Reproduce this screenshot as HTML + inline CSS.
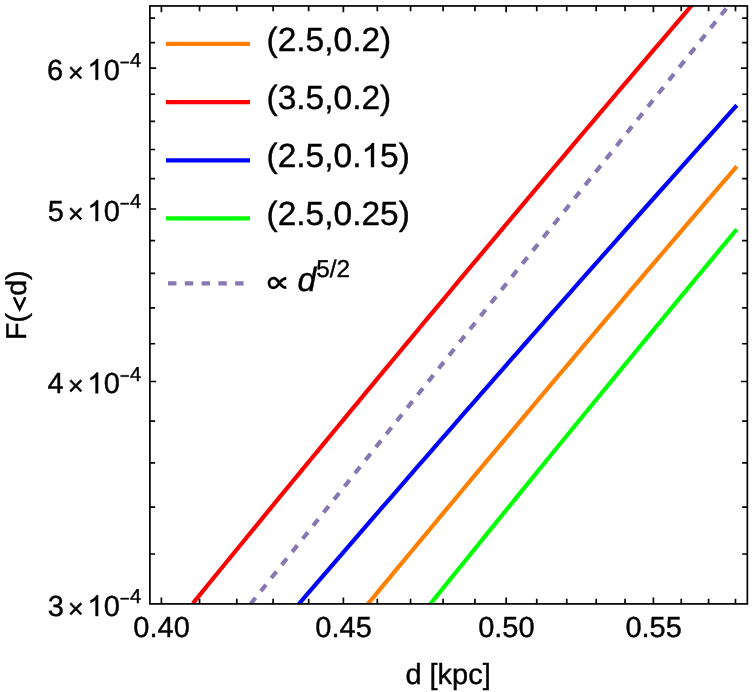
<!DOCTYPE html>
<html><head><meta charset="utf-8"><title>plot</title>
<style>html,body{margin:0;padding:0;background:#fff;}body{width:756px;height:692px;position:relative;overflow:hidden;font-family:"Liberation Sans",sans-serif;}</style>
</head><body>
<svg width="756" height="692" viewBox="0 0 756 692" style="position:absolute;left:0;top:0;will-change:transform">
<defs><clipPath id="c"><rect x="149.9" y="5.95" width="597.45" height="597.9499999999999"/></clipPath></defs>
<g clip-path="url(#c)" fill="none" stroke-linecap="butt" stroke-linejoin="round">
<path d="M366.63,605.45 L374.19,596.31 L381.74,587.18 L389.30,578.06 L396.85,568.94 L404.41,559.84 L411.96,550.73 L419.51,541.64 L427.07,532.55 L434.62,523.47 L442.18,514.40 L449.73,505.34 L457.29,496.28 L464.84,487.23 L472.39,478.19 L479.95,469.15 L487.50,460.12 L495.06,451.10 L502.61,442.09 L510.17,433.08 L517.72,424.09 L525.28,415.09 L532.83,406.11 L540.38,397.13 L547.94,388.16 L555.49,379.20 L563.05,370.25 L570.60,361.30 L578.16,352.36 L585.71,343.43 L593.27,334.50 L600.82,325.58 L608.37,316.67 L615.93,307.77 L623.48,298.87 L631.04,289.98 L638.59,281.10 L646.15,272.22 L653.70,263.36 L661.26,254.50 L668.81,245.64 L676.36,236.80 L683.92,227.96 L691.47,219.13 L699.03,210.31 L706.58,201.49 L714.14,192.68 L721.69,183.88 L729.25,175.08 L736.80,166.30" stroke="#FF8000" stroke-width="4.2"/>
<path d="M192.88,603.32 L200.44,594.05 L207.99,584.78 L215.54,575.51 L223.10,566.26 L230.65,557.01 L238.21,547.76 L245.76,538.53 L253.32,529.30 L260.87,520.08 L268.43,510.86 L275.98,501.65 L283.53,492.45 L291.09,483.26 L298.64,474.07 L306.20,464.89 L313.75,455.71 L321.31,446.55 L328.86,437.39 L336.42,428.23 L343.97,419.09 L351.52,409.95 L359.08,400.81 L366.63,391.69 L374.19,382.57 L381.74,373.46 L389.30,364.35 L396.85,355.25 L404.41,346.16 L411.96,337.07 L419.51,328.00 L427.07,318.92 L434.62,309.86 L442.18,300.80 L449.73,291.75 L457.29,282.71 L464.84,273.67 L472.39,264.64 L479.95,255.62 L487.50,246.60 L495.06,237.59 L502.61,228.59 L510.17,219.59 L517.72,210.60 L525.28,201.62 L532.83,192.64 L540.38,183.67 L547.94,174.71 L555.49,165.76 L563.05,156.81 L570.60,147.87 L578.16,138.93 L585.71,130.00 L593.27,121.08 L600.82,112.17 L608.37,103.26 L615.93,94.36 L623.48,85.47 L631.04,76.58 L638.59,67.70 L646.15,58.83 L653.70,49.96 L661.26,41.10 L668.81,32.25 L676.36,23.41 L683.92,14.57 L691.47,5.74 L699.03,-3.09 L706.58,-11.91 L714.14,-20.72 L721.69,-29.52 L729.25,-38.32 L736.80,-47.11" stroke="#FF0000" stroke-width="4.2"/>
<path d="M298.64,604.25 L306.20,595.47 L313.75,586.69 L321.31,577.92 L328.86,569.15 L336.42,560.39 L343.97,551.64 L351.52,542.90 L359.08,534.16 L366.63,525.42 L374.19,516.70 L381.74,507.98 L389.30,499.26 L396.85,490.55 L404.41,481.85 L411.96,473.16 L419.51,464.47 L427.07,455.79 L434.62,447.11 L442.18,438.44 L449.73,429.78 L457.29,421.12 L464.84,412.47 L472.39,403.82 L479.95,395.19 L487.50,386.55 L495.06,377.93 L502.61,369.31 L510.17,360.70 L517.72,352.09 L525.28,343.49 L532.83,334.90 L540.38,326.31 L547.94,317.73 L555.49,309.15 L563.05,300.58 L570.60,292.02 L578.16,283.47 L585.71,274.92 L593.27,266.37 L600.82,257.84 L608.37,249.31 L615.93,240.78 L623.48,232.26 L631.04,223.75 L638.59,215.25 L646.15,206.75 L653.70,198.26 L661.26,189.77 L668.81,181.29 L676.36,172.82 L683.92,164.35 L691.47,155.89 L699.03,147.44 L706.58,138.99 L714.14,130.55 L721.69,122.11 L729.25,113.68 L736.80,105.26" stroke="#0000FF" stroke-width="4.2"/>
<path d="M427.07,608.05 L434.62,598.66 L442.18,589.29 L449.73,579.92 L457.29,570.55 L464.84,561.20 L472.39,551.85 L479.95,542.51 L487.50,533.17 L495.06,523.85 L502.61,514.53 L510.17,505.21 L517.72,495.91 L525.28,486.61 L532.83,477.32 L540.38,468.04 L547.94,458.76 L555.49,449.49 L563.05,440.23 L570.60,430.98 L578.16,421.73 L585.71,412.49 L593.27,403.26 L600.82,394.04 L608.37,384.82 L615.93,375.61 L623.48,366.41 L631.04,357.21 L638.59,348.02 L646.15,338.84 L653.70,329.67 L661.26,320.50 L668.81,311.34 L676.36,302.19 L683.92,293.05 L691.47,283.91 L699.03,274.78 L706.58,265.66 L714.14,256.54 L721.69,247.44 L729.25,238.33 L736.80,229.24" stroke="#00FF00" stroke-width="4.2"/>
<path d="M250.38,604.20 L734.65,-2.00" stroke="#8778B3" stroke-width="4.2" stroke-dasharray="8.2 8.56" stroke-dashoffset="0"/>
</g>
<g stroke="#000" stroke-width="1.7" fill="none" stroke-linecap="butt">
<rect x="149.9" y="5.95" width="597.45" height="597.9499999999999"/>
<path d="M161.40,603.9v-6.3M161.40,5.95v6.3M199.55,603.9v-5.2M199.55,5.95v5.2M236.78,603.9v-5.2M236.78,5.95v5.2M273.14,603.9v-5.2M273.14,5.95v5.2M308.65,603.9v-5.2M308.65,5.95v5.2M343.37,603.9v-6.3M343.37,5.95v6.3M377.33,603.9v-5.2M377.33,5.95v5.2M410.56,603.9v-5.2M410.56,5.95v5.2M443.09,603.9v-5.2M443.09,5.95v5.2M474.94,603.9v-5.2M474.94,5.95v5.2M506.16,603.9v-6.3M506.16,5.95v6.3M536.75,603.9v-5.2M536.75,5.95v5.2M566.75,603.9v-5.2M566.75,5.95v5.2M596.18,603.9v-5.2M596.18,5.95v5.2M625.06,603.9v-5.2M625.06,5.95v5.2M653.41,603.9v-6.3M653.41,5.95v6.3M681.25,603.9v-5.2M681.25,5.95v5.2M708.60,603.9v-5.2M708.60,5.95v5.2M735.47,603.9v-5.2M735.47,5.95v5.2M149.9,554.01h5.2M747.35,554.01h-5.2M149.9,507.14h5.2M747.35,507.14h-5.2M149.9,462.95h5.2M747.35,462.95h-5.2M149.9,421.15h5.2M747.35,421.15h-5.2M149.9,381.49h6.3M747.35,381.49h-6.3M149.9,343.77h5.2M747.35,343.77h-5.2M149.9,307.81h5.2M747.35,307.81h-5.2M149.9,273.44h5.2M747.35,273.44h-5.2M149.9,240.54h5.2M747.35,240.54h-5.2M149.9,208.98h6.3M747.35,208.98h-6.3M149.9,178.66h5.2M747.35,178.66h-5.2M149.9,149.48h5.2M747.35,149.48h-5.2M149.9,121.37h5.2M747.35,121.37h-5.2M149.9,94.24h5.2M747.35,94.24h-5.2M149.9,68.03h6.3M747.35,68.03h-6.3M149.9,42.68h5.2M747.35,42.68h-5.2M149.9,18.13h5.2M747.35,18.13h-5.2"/>
</g>
<line x1="165.95" x2="250" y1="43.9" y2="43.9" stroke="#FF8000" stroke-width="4.2"/>
<line x1="165.95" x2="250" y1="102.1" y2="102.1" stroke="#FF0000" stroke-width="4.2"/>
<line x1="165.95" x2="250" y1="160.3" y2="160.3" stroke="#0000FF" stroke-width="4.2"/>
<line x1="165.95" x2="250" y1="218.4" y2="218.4" stroke="#00FF00" stroke-width="4.2"/>
<line x1="168.05" x2="250" y1="283.35" y2="283.35" stroke="#8778B3" stroke-width="4.2" stroke-dasharray="8.4 8.37"/>
<g font-family="Liberation Sans, sans-serif" fill="#000" stroke="#000" stroke-width="0.4" stroke-linejoin="round" text-rendering="geometricPrecision">
<text x="47" y="79.8" font-size="29.0">6</text>
<text x="67.72" y="81.70" font-size="27.5">×</text>
<path transform="translate(87.30,79.80) scale(0.01416)" stroke-width="28.2" d="M763 0H583V-1147Q518 -1085 412.5 -1023Q307 -961 223 -930V-1104Q374 -1175 487 -1276Q600 -1377 647 -1472H763Z"/>
<text x="103.72" y="79.8" font-size="29.0">0</text>
<rect x="120.6" y="61.80" width="8.2" height="1.4"/>
<text x="130.0" y="67.20" font-size="20.2">4</text>
<text x="47.7" y="221.0" font-size="29.0">5</text>
<text x="67.72" y="222.90" font-size="27.5">×</text>
<path transform="translate(87.30,221.00) scale(0.01416)" stroke-width="28.2" d="M763 0H583V-1147Q518 -1085 412.5 -1023Q307 -961 223 -930V-1104Q374 -1175 487 -1276Q600 -1377 647 -1472H763Z"/>
<text x="103.72" y="221.0" font-size="29.0">0</text>
<rect x="120.6" y="203.00" width="8.2" height="1.4"/>
<text x="130.0" y="208.40" font-size="20.2">4</text>
<text x="47.4" y="393.3" font-size="29.0">4</text>
<text x="67.72" y="395.20" font-size="27.5">×</text>
<path transform="translate(87.30,393.30) scale(0.01416)" stroke-width="28.2" d="M763 0H583V-1147Q518 -1085 412.5 -1023Q307 -961 223 -930V-1104Q374 -1175 487 -1276Q600 -1377 647 -1472H763Z"/>
<text x="103.72" y="393.3" font-size="29.0">0</text>
<rect x="120.6" y="375.30" width="8.2" height="1.4"/>
<text x="130.0" y="380.70" font-size="20.2">4</text>
<text x="47.8" y="616.0" font-size="29.0">3</text>
<text x="67.72" y="617.90" font-size="27.5">×</text>
<path transform="translate(87.30,616.00) scale(0.01416)" stroke-width="28.2" d="M763 0H583V-1147Q518 -1085 412.5 -1023Q307 -961 223 -930V-1104Q374 -1175 487 -1276Q600 -1377 647 -1472H763Z"/>
<text x="103.72" y="616.0" font-size="29.0">0</text>
<rect x="120.6" y="598.00" width="8.2" height="1.4"/>
<text x="130.0" y="603.40" font-size="20.2">4</text>
<text x="161.60" y="636.9" font-size="29.0" text-anchor="middle">0.40</text>
<text x="343.57" y="636.9" font-size="29.0" text-anchor="middle">0.45</text>
<text x="506.36" y="636.9" font-size="29.0" text-anchor="middle">0.50</text>
<text x="653.61" y="636.9" font-size="29.0" text-anchor="middle">0.55</text>
<text x="448.1" y="683.65" font-size="29.0" text-anchor="middle">d [kpc]</text>
<g transform="translate(26.2,0) rotate(-90)" font-size="28.6">
<text x="-340.05" y="0">F(</text>
<text x="-295.8" y="0">d)</text>
</g>
<path d="M14.0,297.2 L19.65,309.0 L25.3,297.2" fill="none" stroke="#000" stroke-width="2.6" stroke-linejoin="miter" stroke-miterlimit="10"/>
<text x="266.5" y="50.7" font-size="33.5">(2.5,0.2)</text>
<text x="266.5" y="108.9" font-size="33.5">(3.5,0.2)</text>
<text x="266.5" y="225.3" font-size="33.5">(2.5,0.25)</text>
<text x="266.5" y="167.1" font-size="33.5">(2.5,0.</text>
<path transform="translate(361.47,167.10) scale(0.01636)" stroke-width="24.5" d="M763 0H583V-1147Q518 -1085 412.5 -1023Q307 -961 223 -930V-1104Q374 -1175 487 -1276Q600 -1377 647 -1472H763Z"/>
<text x="380.10" y="167.1" font-size="33.5">5)</text>
<path d="M286.3,278.4 C282.5,278.4 281,281 279.4,283.05 C277.8,285.5 276.2,287.9 273.6,287.9 C270.8,287.9 269,285.8 269,283.05 C269,280.3 270.8,278.2 273.6,278.2 C276.2,278.2 277.8,280.6 279.4,283.05 C281,285.1 282.5,287.7 286.3,287.7" fill="none" stroke="#000" stroke-width="2.7"/>
<text x="297.4" y="290.6" font-size="33.5" font-style="italic">d</text>
<text x="316.3" y="277.3" font-size="24.3">5/2</text>
</g>
</svg>
</body></html>
